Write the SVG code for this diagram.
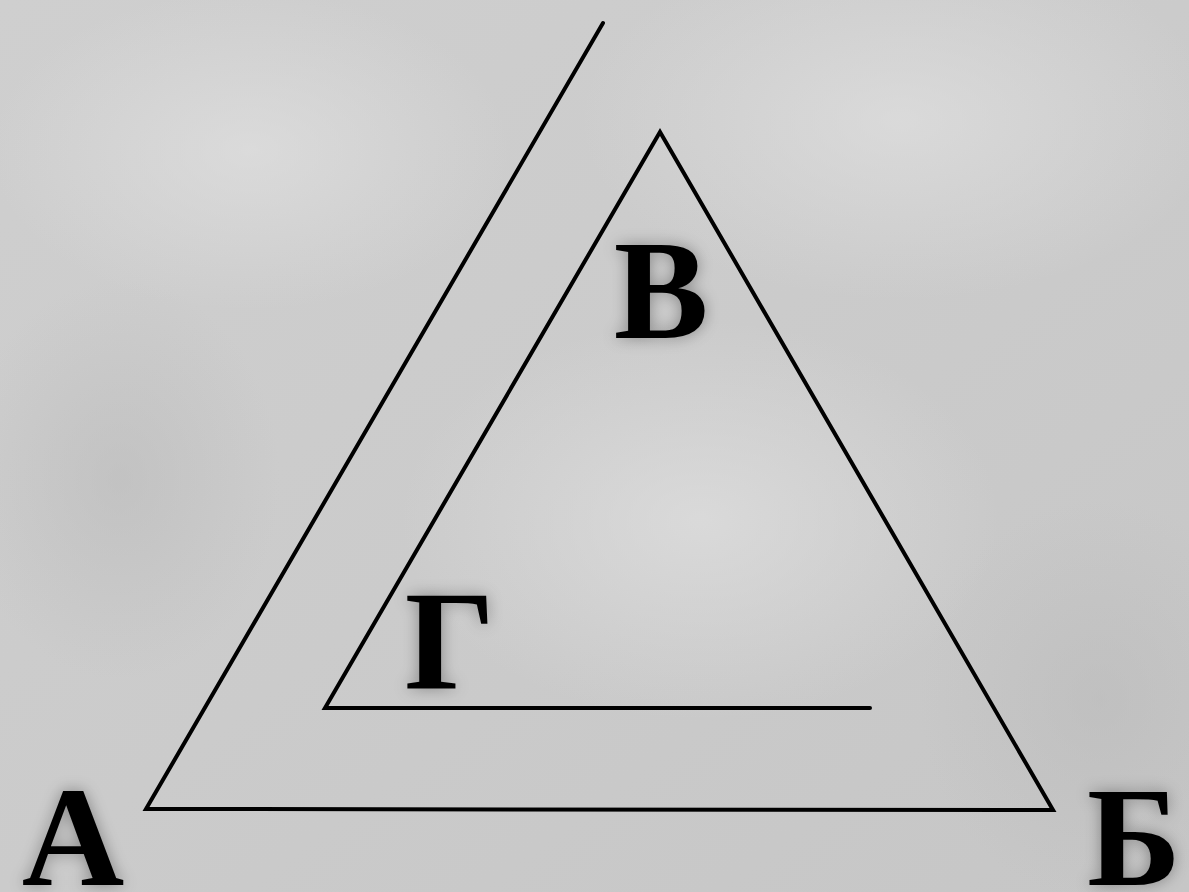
<svg xmlns="http://www.w3.org/2000/svg" width="1189" height="892" viewBox="0 0 1189 892">
<defs>
<linearGradient id="bg" x1="0" y1="0" x2="1" y2="1">
<stop offset="0" stop-color="#cfcfcf"/>
<stop offset="0.5" stop-color="#cbcbcb"/>
<stop offset="1" stop-color="#c6c6c6"/>
</linearGradient>
<radialGradient id="spot1" cx="0.5" cy="0.5" r="0.5">
<stop offset="0" stop-color="#e0e0e0" stop-opacity="0.7"/>
<stop offset="1" stop-color="#e0e0e0" stop-opacity="0"/>
</radialGradient>
<radialGradient id="spot2" cx="0.5" cy="0.5" r="0.5">
<stop offset="0" stop-color="#b8b8b8" stop-opacity="0.5"/>
<stop offset="1" stop-color="#b8b8b8" stop-opacity="0"/>
</radialGradient>
<filter id="glow" x="-30%" y="-30%" width="160%" height="160%">
<feGaussianBlur in="SourceAlpha" stdDeviation="8" result="b"/>
<feComponentTransfer in="b" result="s"><feFuncA type="linear" slope="0.35"/></feComponentTransfer>
<feMerge><feMergeNode in="s"/><feMergeNode in="SourceGraphic"/></feMerge>
</filter>
</defs>
<style>
.lbl{font-family:"Liberation Serif","Times New Roman",serif;font-weight:bold;font-size:142px;fill:#000;text-anchor:middle}
.ln{fill:none;stroke:#000;stroke-width:4;stroke-linejoin:miter;stroke-linecap:round}
</style>
<rect width="1189" height="892" fill="url(#bg)"/>
<ellipse cx="900" cy="120" rx="320" ry="180" fill="url(#spot1)"/>
<ellipse cx="250" cy="150" rx="260" ry="160" fill="url(#spot1)"/>
<ellipse cx="700" cy="520" rx="300" ry="200" fill="url(#spot1)"/>
<ellipse cx="120" cy="480" rx="160" ry="200" fill="url(#spot2)"/>
<ellipse cx="1100" cy="700" rx="180" ry="200" fill="url(#spot2)"/>
<g id="connectors">
<path class="ln" d="M603,23 L146,809 L1053,810 L660,132 L325,708 L870,708"/>
</g>
<g id="node-A"><text class="lbl" x="73" y="885" filter="url(#glow)">А</text></g>
<g id="node-B"><text class="lbl" x="1134" y="885" filter="url(#glow)">Б</text></g>
<g id="node-V"><text class="lbl" x="661" y="338" filter="url(#glow)">В</text></g>
<g id="node-G"><text class="lbl" x="450" y="689" filter="url(#glow)">Г</text></g>
</svg>
